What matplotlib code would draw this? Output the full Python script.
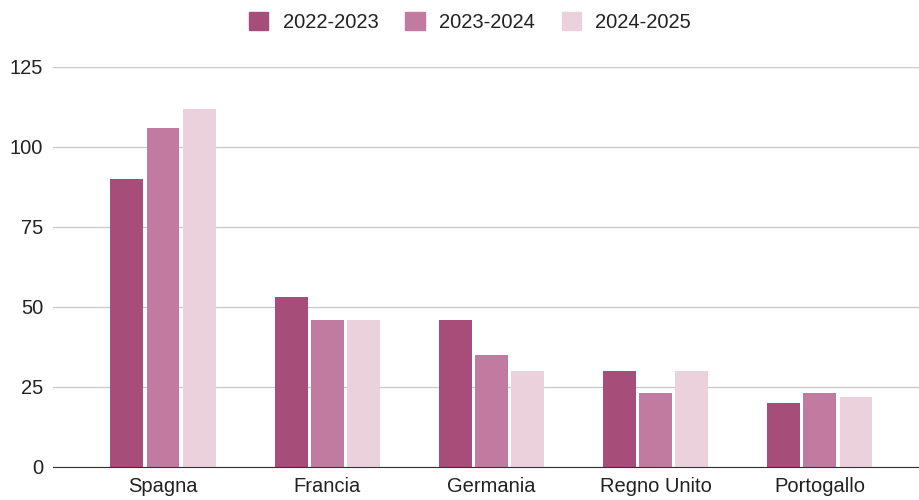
import numpy as np
import matplotlib.pyplot as plt
from matplotlib.patches import Patch

plt.rcParams['font.family'] = ['Liberation Sans', 'DejaVu Sans']

paesi = ["Spagna", "Francia", "Germania", "Regno Unito", "Portogallo"]
stagioni = ["2022-2023", "2023-2024", "2024-2025"]
v_2022 = [90, 53, 46, 30, 20]
v_2023 = [106, 46, 35, 23, 23]
v_2024 = [112, 46, 30, 30, 22]
colori = ["#a64d79", "#c27ba0", "#ead1dc"]

fig = plt.figure(figsize=(9.2, 5), dpi=100)
ax = fig.add_axes([53 / 920, 33 / 500, 867 / 920, 400 / 500])

x = np.arange(len(paesi))
larg = 0.2
passo = 0.22
for i, (serie, col) in enumerate(zip([v_2022, v_2023, v_2024], colori)):
    ax.bar(x + (i - 1) * passo, serie, width=larg, color=col, zorder=3)

ax.set_ylim(0, 125)
ax.set_xlim(-0.67, 4.61)
ax.set_yticks([0, 25, 50, 75, 100, 125])
ax.set_xticks(x)
ax.set_xticklabels(paesi)
ax.tick_params(axis="both", length=0, labelsize=14.5, colors="#222222")
ax.tick_params(axis="y", pad=7)
ax.tick_params(axis="x", pad=7)
ax.grid(axis="y", color="#cccccc", linewidth=1, zorder=0)
for s in ["top", "right", "left"]:
    ax.spines[s].set_visible(False)
ax.spines["bottom"].set_color("#333333")
ax.spines["bottom"].set_zorder(4)

handles = [Patch(facecolor=c, edgecolor=c) for c in colori]
fig.legend(handles, stagioni, loc="center", bbox_to_anchor=(470 / 920, 1 - 22 / 500),
           ncol=3, frameon=False, fontsize=14.5, handlelength=0.95, handleheight=0.95,
           columnspacing=1.35, handletextpad=0.7, labelcolor="#222222")

fig.savefig("out.png", dpi=100)
